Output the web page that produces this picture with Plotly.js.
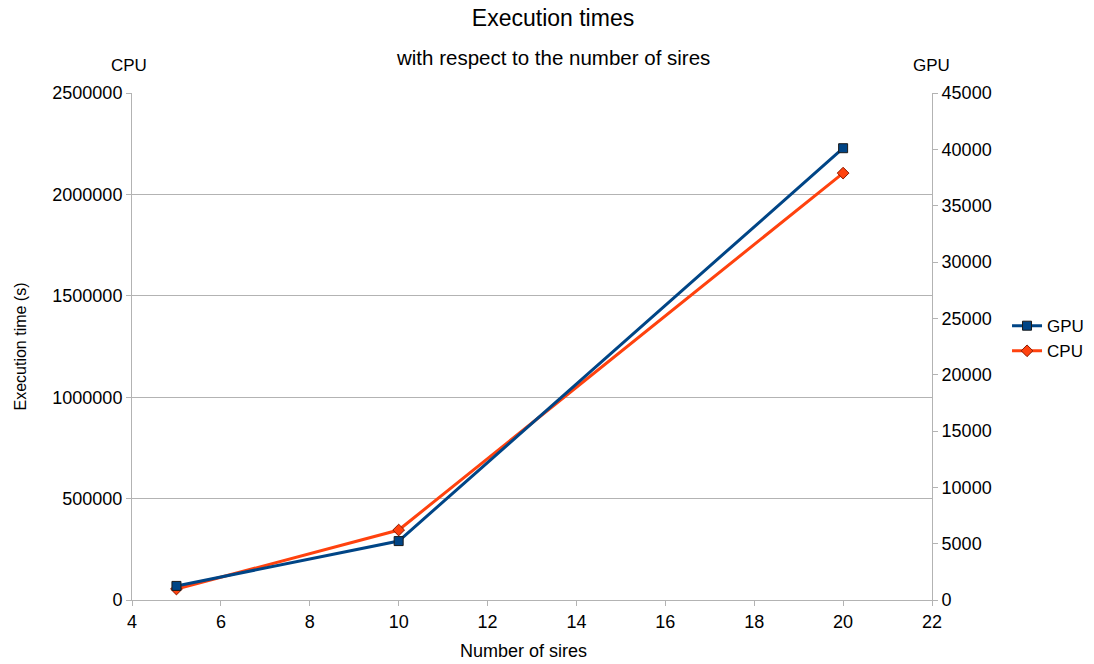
<!DOCTYPE html>
<html>
<head>
<meta charset="utf-8">
<script src="https://cdn.plot.ly/plotly-3.0.1.min.js"></script>
<style>html,body{margin:0;padding:0;background:#fff;}#chart{width:1094px;height:664px;}</style>
</head>
<body>
<div id="chart"></div>
<script>
const sires = [5, 10, 20];
const gpuTimes = [1250, 5230, 40100];
const cpuTimes = [54000, 345000, 2105000];
const xTicks = [4, 6, 8, 10, 12, 14, 16, 18, 20, 22];

const font = "Liberation Sans, Arial, sans-serif";
const gridCol = "#b3b3b3";

const traces = [
  {
    x: sires, y: gpuTimes, name: "GPU", yaxis: "y2", type: "scatter", mode: "lines+markers",
    line: {color: "#004586", width: 3},
    marker: {symbol: "square", size: 9, color: "#004586", line: {color: "#1a1a1a", width: 1}}
  },
  {
    x: sires, y: cpuTimes, name: "CPU", yaxis: "y", type: "scatter", mode: "lines+markers",
    line: {color: "#ff420e", width: 3},
    marker: {symbol: "diamond", size: 9, color: "#ff420e", line: {color: "#8b1a00", width: 1}}
  }
];

const layout = {
  width: 1094, height: 664,
  margin: {l: 132, r: 162, t: 93, b: 64, autoexpand: false},
  paper_bgcolor: "#fff", plot_bgcolor: "#fff",
  font: {family: font, size: 17, color: "#000"},
  showlegend: true,
  legend: {x: 0.9205, xref: "container", y: 0.49, yref: "container", xanchor: "left", yanchor: "middle",
           font: {size: 17}, tracegroupgap: 0, itemwidth: 30},
  title: {text: "Execution times", x: 0.5055, xref: "container", y: 0.973, yref: "container", xanchor: "center", yanchor: "middle",
          font: {size: 23, family: font}},
  xaxis: {
    range: [4, 22], tickvals: xTicks, ticktext: xTicks.map(String),
    showgrid: false, zeroline: false, showline: true, linecolor: gridCol, linewidth: 1,
    ticks: "outside", ticklen: 5, tickcolor: gridCol,
    tickfont: {size: 18}
  },
  yaxis: {
    range: [0, 2500000], dtick: 500000, tickformat: "d",
    showgrid: true, gridcolor: gridCol, zeroline: false, showline: true, linecolor: gridCol,
    ticks: "outside", ticklen: 5, tickcolor: gridCol,
    title: {text: "Execution time (s)", font: {size: 16}, standoff: 21},
    tickfont: {size: 18}
  },
  yaxis2: {
    range: [0, 45000], dtick: 5000, tickformat: "d", overlaying: "y", side: "right",
    showgrid: false, zeroline: false, showline: true, linecolor: gridCol,
    ticks: "outside", ticklen: 5, tickcolor: gridCol, tickfont: {size: 18}
  },
  annotations: [
    {text: "with respect to the number of sires", xref: "paper", yref: "paper", x: 0.5, y: 1, yanchor: "middle", xanchor: "center", xshift: 21, yshift: 36, showarrow: false, font: {size: 20.5}},
    {text: "CPU", xref: "paper", yref: "paper", x: 0, xanchor: "center", xshift: -3, y: 1, yanchor: "middle", yshift: 28, showarrow: false, font: {size: 17}},
    {text: "GPU", xref: "paper", yref: "paper", x: 1, xanchor: "center", xshift: -1, y: 1, yanchor: "middle", yshift: 28, showarrow: false, font: {size: 17}},
    {text: "Number of sires", xref: "paper", yref: "paper", x: 0.5, xanchor: "center", xshift: -9, y: 0, yanchor: "middle", yshift: -51, showarrow: false, font: {size: 18}}
  ]
};

Plotly.newPlot("chart", traces, layout, {displayModeBar: false, staticPlot: true});
</script>
</body>
</html>
